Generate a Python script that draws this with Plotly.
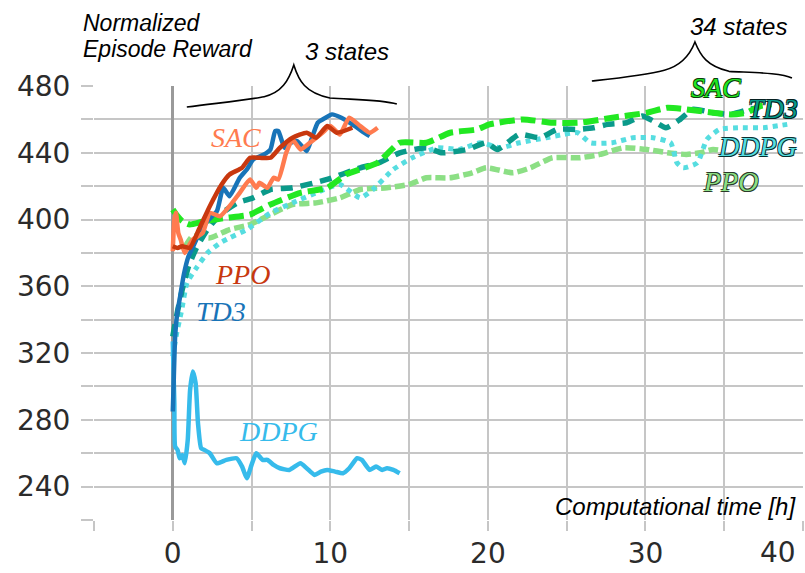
import plotly.graph_objects as go

# ---------------- data ----------------
# 3-state runs (solid)
td3_3_x = [0, 0.05, 0.15, 0.3, 0.45, 0.7, 1.0, 1.3, 1.7, 2.2, 2.8, 3.2, 3.6, 4.25, 4.7, 5.1, 5.8, 6.2, 6.5, 6.7, 7.1, 7.5, 7.9, 8.5, 8.8, 9.2, 9.7, 10.1, 10.7, 11.4, 12.0, 12.5]
td3_3_y = [285, 300, 330, 345, 353, 367, 378, 384, 392, 399, 405, 419, 414, 425, 430, 436, 439, 442, 453, 453, 443, 446, 447, 441, 448, 458, 461, 463, 461, 457, 453, 450]

sac_3_x = [0, 0.1, 0.2, 0.35, 0.5, 0.76, 1.0, 1.27, 1.9, 2.35, 3.0, 3.6, 4.25, 4.9, 5.3, 5.5, 6.0, 6.4, 6.7, 7.2, 7.6, 8.1, 8.7, 9.5, 10.0, 10.6, 11.2, 11.9, 12.5, 13.0]
sac_3_y = [381, 400, 404, 392, 388, 380, 384, 388, 392, 404, 402, 408, 416, 424, 419, 422, 419, 425, 424, 440, 448, 442, 446, 452, 456, 451, 461, 456, 452, 455]

ppo_3_x = [0, 0.3, 0.6, 1.08, 1.7, 2.35, 3.1, 3.6, 4.4, 4.9, 5.5, 6.2, 6.8, 7.6, 8.5, 9.1, 9.8, 10.4, 11.4]
ppo_3_y = [384, 383, 384, 383, 395, 408, 421, 427, 431, 437, 437, 437, 443, 449, 452, 449, 456, 452, 455]

ddpg_3_x = [0, 0.1, 0.15, 0.3, 0.44, 0.6, 0.76, 0.95, 1.1, 1.27, 1.45, 1.6, 1.8, 2.0, 2.35, 2.8, 3.4, 4.05, 4.4, 4.7, 5.0, 5.3, 5.7, 6.0, 6.4, 6.8, 7.4, 8.1, 8.5, 9.0, 9.4, 9.8, 10.3, 10.8, 11.2, 11.7, 12.0, 12.5, 12.9, 13.3, 13.6, 14.0, 14.4]
ddpg_3_y = [327, 290, 264, 262, 257, 259, 254, 268, 298, 309, 302, 278, 263, 262, 260, 254, 256, 257, 252, 245, 253, 260, 256, 256, 253, 251, 250, 254, 251, 247, 249, 250, 249, 248, 251, 257, 256, 250, 252, 250, 251, 250, 248]

# 34-state runs (dashed / dotted)
sac_34_x = [0, 0.3, 0.6, 1.08, 2.0, 3.4, 4.9, 6.2, 8.1, 9.8, 11.0, 13.0, 14.4, 16.1, 17.6, 19.3, 20.1, 22.2, 24.1, 25.8, 27.9, 30.1, 31.4, 32.6, 34.3, 35.4, 36.4, 37.3, 38.0]
sac_34_y = [406, 402, 399, 397, 399, 401, 403, 409, 416, 419, 427, 434, 446, 446, 452, 454, 457, 460, 458, 458, 461, 464, 467, 466, 464, 463, 464, 468, 469]

td3_34_x = [0, 0.3, 0.6, 1.0, 1.5, 2.2, 3.0, 4.1, 5.1, 6.2, 7.6, 9.8, 11.9, 13.1, 14.4, 16.1, 17.1, 18.7, 19.9, 20.6, 22.0, 23.3, 24.4, 25.7, 26.7, 27.6, 28.8, 29.8, 30.5, 31.3, 32.2, 33.0, 34.3, 35.4, 36.6, 37.2]
td3_34_y = [330, 345, 358, 372, 383, 394, 403, 410, 413, 418, 419, 424, 431, 434, 440, 443, 440, 442, 446, 442, 451, 449, 454, 454, 455, 457, 458, 462, 459, 455, 460, 466, 464, 463, 466, 467]

ddpg_34_x = [0, 0.25, 0.57, 0.9, 1.5, 2.2, 3.0, 3.6, 4.7, 6.2, 7.6, 9.1, 10.6, 11.9, 12.7, 14.0, 15.2, 16.8, 18.2, 19.5, 20.8, 22.0, 23.7, 24.8, 25.7, 26.5, 27.9, 29.2, 30.5, 31.6, 32.0, 32.4, 33.3, 33.9, 34.7, 36.0, 37.5, 39.0]
ddpg_34_y = [318, 332, 346, 362, 371, 380, 386, 389, 394, 404, 410, 416, 421, 413, 418, 430, 437, 443, 442, 446, 443, 446, 449, 451, 452, 446, 446, 449, 449, 446, 434, 431, 434, 448, 454, 455, 455, 457]

ppo_34_x = [0.8, 1.27, 2.35, 3.6, 4.9, 6.2, 7.6, 9.1, 10.6, 11.9, 13.6, 15.0, 16.1, 17.6, 19.0, 19.9, 21.6, 22.7, 24.1, 25.8, 27.1, 28.6, 30.1, 31.4, 32.6, 33.5, 34.3, 35.0]
ppo_34_y = [384, 390, 389, 394, 397, 403, 409, 410, 413, 418, 419, 421, 425, 425, 428, 431, 428, 431, 437, 437, 439, 443, 442, 440, 439, 440, 442, 441]

x_tickvals = [-5, 0, 5, 10, 15, 20, 25, 30, 35, 40]
x_ticktext = ["", "0", "", "10", "", "20", "", "30", "", ""]
x_last_label = "40"   # drawn flush with the right edge, as in the original
y_tickvals = [220, 240, 260, 280, 300, 320, 340, 360, 380, 400, 420, 440, 460, 480]
y_ticktext = ["", "240", "", "280", "", "320", "", "360", "", "400", "", "440", "", "480"]

XR = [-5, 40]
YR = [220, 480]

# ---------------- figure ----------------
fig = go.Figure()

def add(x, y, color, width, dash):
    fig.add_trace(go.Scatter(x=x, y=y, mode="lines",
                             line=dict(color=color, width=width, dash=dash, shape="spline", smoothing=0.5),
                             hoverinfo="skip", showlegend=False))

add(ppo_34_x, ppo_34_y, "#8CDF85", 5.5, "10px,4px")
add(ddpg_34_x, ddpg_34_y, "#56DDE0", 5, "5px,5px")
add(td3_34_x, td3_34_y, "#0A9A8A", 5.5, "12px,8px")
add(sac_34_x, sac_34_y, "#22E822", 6, "15px,6px")

add(ddpg_3_x, ddpg_3_y, "#36BBEB", 4.5, "solid")
add(td3_3_x, td3_3_y, "#1874B8", 4.5, "solid")
add(sac_3_x, sac_3_y, "#FF7B4F", 4.5, "solid")
add(ppo_3_x, ppo_3_y, "#C8380F", 4.5, "solid")

def lab(text, x, y, color, outline=None):
    f = dict(family="Liberation Serif", size=28, color=color, style="italic")
    if outline:
        f["shadow"] = (f"0.7px 0.7px 0 {outline}, -0.7px -0.7px 0 {outline}, "
                       f"0.7px -0.7px 0 {outline}, -0.7px 0.7px 0 {outline}")
    fig.add_annotation(x=x, y=y, xref="x", yref="y", text=text, showarrow=False,
                       xanchor="center", yanchor="middle", font=f)

lab("SAC", 4.0, 449.4, "#FF7B4F")
lab("PPO", 4.4, 367.2, "#C8380F")
lab("TD3", 3.05, 345, "#1874B8")
lab("DDPG", 6.7, 273, "#36BBEB")
lab("SAC", 34.5, 479, "#22E822", "#0b3d0b")
lab("TD3", 38.1, 466.8, "#0A9A8A", "#062020")
lab("DDPG", 37.1, 444, "#56DDE0", "#0b3030")
lab("PPO", 35.4, 423, "#8CDF85", "#2a3a2a")

def txt(text, xp, yp, xanchor="left", size=24):
    fig.add_annotation(x=xp, y=yp, xref="paper", yref="paper", text=text, showarrow=False,
                       xanchor=xanchor, yanchor="middle",
                       font=dict(family="Liberation Sans", size=size, color="#000", style="italic"))

txt("Normalized", -0.018, 1.146, size=23)
txt("Episode Reward", -0.018, 1.086, size=23)
txt("3 states", 0.3575, 1.0795, "center")
txt("34 states", 0.9097, 1.137, "center")
txt("Computational time [h]", 0.9925, 0.031, "right")

tickfont = dict(family="DejaVu Sans", size=28, color="#2b2b2b")
fig.add_annotation(x=0.9925, y=-0.076, xref="paper", yref="paper", text=x_last_label,
                   showarrow=False, xanchor="right", yanchor="middle", font=tickfont)

# curly braces, defined in data units, converted to paper units
def P(x, y):
    return f"{(x - XR[0]) / (XR[1] - XR[0]):.4f},{(y - YR[0]) / (YR[1] - YR[0]):.4f}"

brace1 = (f"M {P(0.89, 467.4)} C {P(3.5, 470.5)} {P(5.0, 472.0)} {P(5.8, 473.6)} "
          f"C {P(6.9, 476.0)} {P(7.35, 483.0)} {P(7.68, 492.6)} "
          f"C {P(8.0, 483.0)} {P(8.4, 476.0)} {P(9.97, 472.8)} "
          f"C {P(11.5, 471.8)} {P(13.3, 471.8)} {P(14.22, 469.2)}")
brace2 = (f"M {P(26.6, 483.0)} C {P(28.5, 485.0)} {P(30.0, 486.5)} {P(31.2, 489.5)} "
          f"C {P(32.2, 492.0)} {P(32.8, 498.0)} {P(33.14, 506.4)} "
          f"C {P(33.5, 498.0)} {P(33.9, 492.0)} {P(35.3, 488.8)} "
          f"C {P(36.8, 488.0)} {P(38.6, 488.0)} {P(39.3, 484.8)}")
for pth in (brace1, brace2):
    fig.add_shape(type="path", path=pth, xref="paper", yref="paper",
                  line=dict(color="#000", width=1.6), layer="above")

grid = "#C6C6C6"
fig.update_xaxes(range=XR, tickvals=x_tickvals, ticktext=x_ticktext,
                 showgrid=True, gridcolor=grid, gridwidth=2,
                 ticks="outside", ticklen=10, tickwidth=2, tickcolor=grid,
                 zeroline=True, zerolinecolor="#9A9A9A", zerolinewidth=3,
                 showline=False, ticklabelstandoff=-2, ticklabeloverflow="allow",
                 automargin=False, tickfont=tickfont)
fig.update_yaxes(range=YR, tickvals=y_tickvals, ticktext=y_ticktext,
                 showgrid=True, gridcolor=grid, gridwidth=2,
                 ticks="outside", ticklen=12, tickwidth=2, tickcolor=grid,
                 zeroline=False, showline=False, ticklabelstandoff=5,
                 automargin=False, tickfont=tickfont)

fig.update_layout(width=805, height=573, margin=dict(l=94, r=2, t=86, b=53),
                  paper_bgcolor="white", plot_bgcolor="white", showlegend=False)

fig.write_html("out.html")
